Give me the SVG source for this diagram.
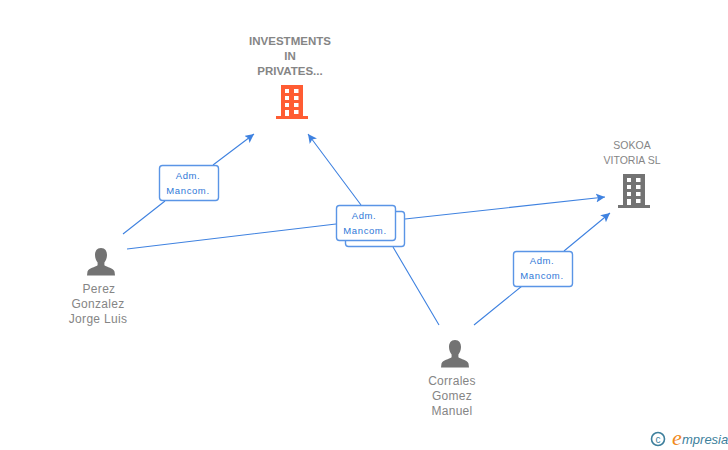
<svg xmlns="http://www.w3.org/2000/svg" width="728" height="450" viewBox="0 0 728 450">
<style>
text{font-family:"Liberation Sans",Arial,sans-serif}
.n{font-size:12px;fill:#858585;text-anchor:middle;letter-spacing:.3px}
.s{font-size:10.500px;letter-spacing:0}
.b{font-size:11.500px;font-weight:bold;letter-spacing:0}
.e{fill:none;stroke:#3f82e0;stroke-width:1.1}
.box{fill:#fff;stroke:#5a95e6;stroke-width:1.4}
.l{font-size:9.500px;fill:#2f78d8;text-anchor:middle;letter-spacing:.6px}
.p{fill:#737373}
</style>
<defs>
<marker id="a" markerUnits="userSpaceOnUse" markerWidth="11" markerHeight="11" refX="9" refY="4.500" orient="auto"><path d="M0 0L9 4.500L0 9L2 4.500Z" fill="#3f82e0"/></marker>
<symbol id="person" viewBox="0 0 28 28" overflow="visible"><path d="M14 0C9.800 0 8 3.300 8 7C8 10 9.200 12.800 10.600 14.500V17.300C8 19.300 1.800 20 .5 23.500L0 27.500H28L27.500 23.500C26.200 20 20 19.300 17.400 17.300V14.500C18.800 12.800 20 10 20 7C20 3.300 18.200 0 14 0Z"/></symbol>
<symbol id="bld" viewBox="0 0 32 34"><path fill-rule="evenodd" d="M5 0H27V31H32V34H0V31H5ZM9 4V8H13V4ZM18 4V8H22.500V4ZM9 11V15H13V11ZM18 11V15H22.500V11ZM9 18V22H13V18ZM18 18V22H22.500V18ZM9 25V31H13V25ZM18 25V29H22.500V25Z"/></symbol>
</defs>
<g id="connectors">
<path class="e" d="M123 234L165 201M213 165L254 134" marker-end="url(#a)"/>
<path class="e" d="M127 249L336 224M405 219L605 197" marker-end="url(#a)"/>
<path class="e" d="M439 325L393 247M361 205L308 134" marker-end="url(#a)"/>
<path class="e" d="M474 325L522 286M564 251L610 213" marker-end="url(#a)"/>
</g>
<g id="edge-label-1"><rect class="box" x="159.500" y="165.500" width="59" height="35" rx="3"/><text class="l" x="188" y="179">Adm.</text><text class="l" x="188" y="194">Mancom.</text></g>
<g id="edge-label-2"><rect class="box" x="345.500" y="211.500" width="59" height="35" rx="3"/><rect class="box" x="336.500" y="205.500" width="59" height="35" rx="3"/><text class="l" x="364" y="219">Adm.</text><text class="l" x="365" y="234">Mancom.</text></g>
<g id="edge-label-3"><rect class="box" x="513.500" y="251.500" width="59" height="35" rx="3"/><text class="l" x="542" y="264">Adm.</text><text class="l" x="542" y="279">Mancom.</text></g>
<g id="node-investments"><text class="n b" x="290" y="45">INVESTMENTS</text><text class="n b" x="290" y="60">IN</text><text class="n b" x="290" y="75">PRIVATES...</text><use href="#bld" x="276" y="85" width="32" height="34" fill="#ff5c33"/></g>
<g id="node-sokoa"><text class="n s" x="632" y="149">SOKOA</text><text class="n s" x="632" y="164">VITORIA SL</text><use href="#bld" x="618" y="174" width="32" height="34" fill="#737373"/></g>
<g id="node-perez"><use class="p" href="#person" x="87" y="248" width="28" height="28"/><text class="n" x="99" y="293">Perez</text><text class="n" x="98" y="308">Gonzalez</text><text class="n" x="98" y="323">Jorge Luis</text></g>
<g id="node-corrales"><use class="p" href="#person" x="441" y="340" width="28" height="28"/><text class="n" x="452" y="385">Corrales</text><text class="n" x="452" y="400">Gomez</text><text class="n" x="452" y="415">Manuel</text></g>
<g id="watermark"><circle cx="658" cy="439" r="6.500" fill="none" stroke="#3d7f9c" stroke-width="1.600"/><text x="658" y="442.500" font-size="10" fill="#3d7f9c" text-anchor="middle">c</text><text x="672" y="445" font-size="22" font-style="italic" fill="#f08a1d" style="font-family:'Liberation Serif',serif">e</text><text x="682" y="444" font-size="13" font-style="italic" fill="#3d7f9c">mpresia</text></g>
</svg>
